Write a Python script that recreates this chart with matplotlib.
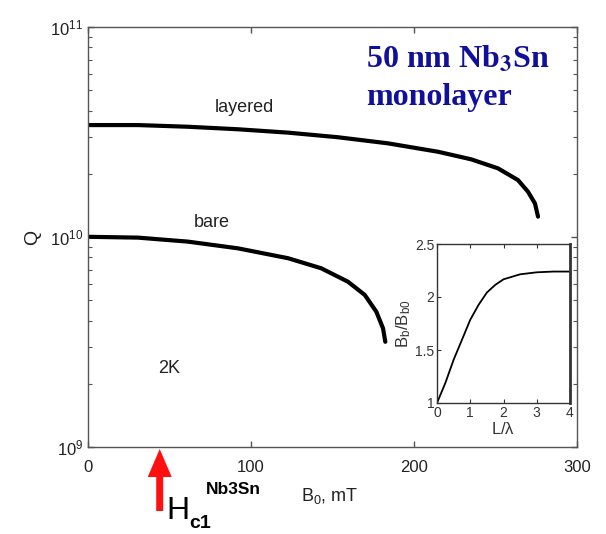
import numpy as np
import matplotlib
matplotlib.use("Agg")
import matplotlib.pyplot as plt
import matplotlib.patches as mpatches
from matplotlib.ticker import LogLocator, FixedLocator, NullFormatter

plt.rcParams['font.family'] = ['Liberation Sans', 'DejaVu Sans']
plt.rcParams['mathtext.fontset'] = 'custom'
plt.rcParams['mathtext.rm'] = 'Liberation Sans'
plt.rcParams['mathtext.it'] = 'Liberation Sans'
plt.rcParams['mathtext.bf'] = 'Liberation Sans:bold'

# Main chart data: Q vs B0 (mT)
layered_B = [0, 30.7, 61.3, 92.0, 122.7, 153.4, 184.0, 214.7, 235.0, 251.5, 263.8, 269.9, 274.2, 276.1]
layered_logQ = [10.533, 10.533, 10.525, 10.513, 10.497, 10.475, 10.446, 10.406, 10.370, 10.327,
                10.271, 10.216, 10.160, 10.097]
bare_B = [0, 30.7, 61.3, 92.0, 122.7, 143.1, 159.5, 169.8, 176.9, 181.0, 182.4]
bare_logQ = [10.001, 9.997, 9.978, 9.946, 9.899, 9.851, 9.787, 9.724, 9.644, 9.565, 9.501]

# Inset data: Bb/Bb0 vs L/lambda
inset_x = [0, 0.25, 0.5, 0.75, 1.0, 1.25, 1.5, 1.75, 2.0, 2.5, 3.0, 3.5, 4.0]
inset_y = [1.0, 1.188, 1.408, 1.596, 1.785, 1.926, 2.042, 2.114, 2.167, 2.214, 2.233, 2.24, 2.24]

x_ticks = [0, 100, 200, 300]
inset_xticks = [0, 1, 2, 3, 4]
inset_yticks = [1, 1.5, 2, 2.5]
inset_ytick_labels = ['1', '1.5', '2', '2.5']
hc1_B = 44

W, H = 606, 534
fig = plt.figure(figsize=(W / 100, H / 100), dpi=100)
fig.patch.set_facecolor('white')

def fx(px):
    return px / W

def fy(py):
    return 1 - py / H

ax = fig.add_axes([fx(88), fy(447), fx(577) - fx(88), fy(27) - fy(447)])
spine_col = '#555555'
for s in ax.spines.values():
    s.set_color(spine_col)
    s.set_linewidth(1.0)

ax.plot(layered_B, np.power(10.0, layered_logQ), color='black', lw=3.0,
        solid_capstyle='round', solid_joinstyle='round')
ax.plot(bare_B, np.power(10.0, bare_logQ), color='black', lw=3.0,
        solid_capstyle='round', solid_joinstyle='round')
ax.set_yscale('log')
ax.set_xlim(0, 300)
ax.set_ylim(1e9, 1e11)
ax.xaxis.set_major_locator(FixedLocator(x_ticks))
ax.yaxis.set_major_locator(LogLocator(base=10, numticks=5))
ax.yaxis.set_minor_locator(LogLocator(base=10, subs=np.arange(2, 10), numticks=20))
ax.yaxis.set_minor_formatter(NullFormatter())
ax.tick_params(which='both', direction='in', top=True, right=True, color=spine_col,
               labelsize=12, labelcolor='#222222')
ax.tick_params(which='major', length=4, width=1)
ax.tick_params(which='minor', length=3, width=0.8)
ax.tick_params(axis='x', pad=9)
ax.set_ylabel('Q', fontsize=14, labelpad=6, color='#222222')

ax.text(96, 10 ** 10.619, 'layered', ha='center', va='center', fontsize=13, color='#222222')
ax.text(76, 10 ** 10.071, 'bare', ha='center', va='center', fontsize=13, color='#222222')
ax.text(50, 10 ** 9.376, '2K', ha='center', va='center', fontsize=13, color='#222222')

fig.text(fx(330), fy(496), r'$\mathregular{B_{0}}$, mT', ha='center', va='center',
         fontsize=13, color='#222222')

fig.text(fx(366), fy(68), r'50 nm Nb$_\mathbf{3}$Sn', ha='left', va='baseline', fontsize=23,
         fontweight='bold', family='Liberation Serif', color='#10109a',
         math_fontfamily='stix')
fig.text(fx(366), fy(105), 'monolayer', ha='left', va='baseline', fontsize=23,
         fontweight='bold', family='Liberation Serif', color='#10109a')

# red arrow for Hc1 (overlay axes in pixel coordinates)
ov = fig.add_axes([0, 0, 1, 1], facecolor='none')
ov.set_axis_off()
ov.set_xlim(0, W)
ov.set_ylim(H, 0)
xa = 88 + (577 - 88) * hc1_B / 300
ov.add_patch(mpatches.FancyArrow(xa, 511, 0, -62, width=7, head_width=24, head_length=28,
                                 length_includes_head=True, color='#ff1010', lw=0))
ov.text(166, 511, 'H', ha='left', va='center', fontsize=23, color='black')
ov.text(189, 523, 'c1', ha='left', va='center', fontsize=14, fontweight='bold', color='black')
ov.text(206, 489, 'Nb3Sn', ha='left', va='center', fontsize=12.5, fontweight='bold', color='black')

# inset
ins = fig.add_axes([fx(437), fy(403), fx(570) - fx(437), fy(244) - fy(403)])
for s in ins.spines.values():
    s.set_color('#333333')
    s.set_linewidth(1.0)
ins.spines['right'].set_linewidth(2.0)
ins.plot(inset_x, inset_y, color='black', lw=1.3)
ins.set_xlim(0, 4)
ins.set_ylim(1, 2.5)
ins.xaxis.set_major_locator(FixedLocator(inset_xticks))
ins.yaxis.set_major_locator(FixedLocator(inset_yticks))
ins.set_xticklabels([str(v) for v in inset_xticks])
ins.set_yticklabels(inset_ytick_labels)
ins.tick_params(direction='in', top=True, length=3, labelsize=10, pad=2,
                color='#333333', labelcolor='#333333')
ins.set_xlabel(r'L/$\mathregular{\lambda}$', fontsize=12, labelpad=1, color='#333333')
ins.set_ylabel(r'$\mathregular{B_b/B_{b0}}$', fontsize=12, labelpad=1, color='#333333')

fig.savefig('out.png', dpi=100)
